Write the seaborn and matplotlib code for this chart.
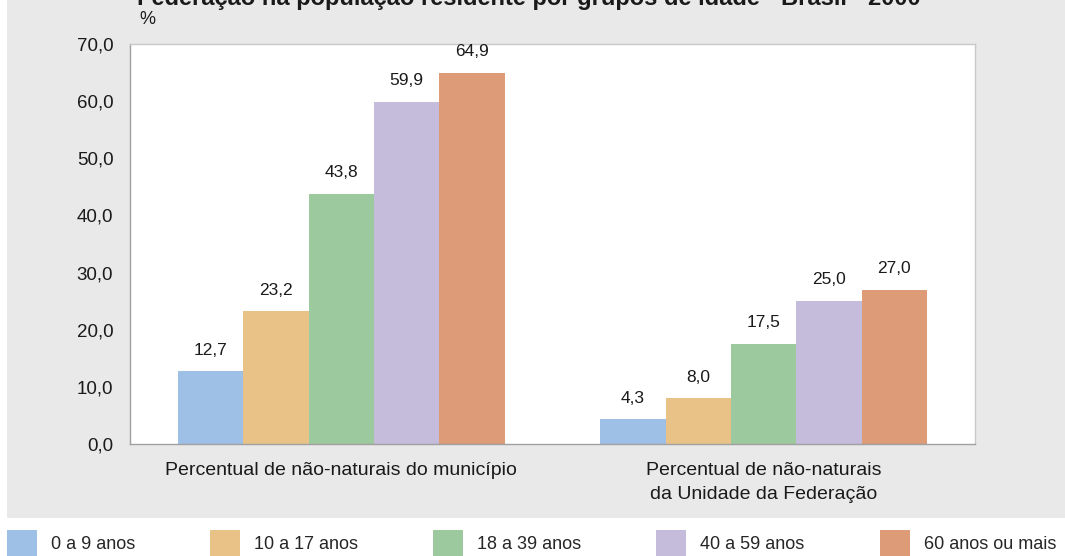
import seaborn as sns
import pandas as pd
import numpy as np
import matplotlib.pyplot as plt
import matplotlib
from matplotlib.patches import Rectangle, Patch

categorias = ['Percentual de não-naturais do município',
              'Percentual de não-naturais\nda Unidade da Federação']
idades = ['0 a 9 anos', '10 a 17 anos', '18 a 39 anos', '40 a 59 anos', '60 anos ou mais']
municipio = [12.7, 23.2, 43.8, 59.9, 64.9]
uf = [4.3, 8.0, 17.5, 25.0, 27.0]
cores = ['#9fc0e6', '#e9c287', '#9dc99f', '#c5bbdb', '#dd9b77']
yticks = [0, 10, 20, 30, 40, 50, 60, 70]

df = pd.DataFrame({
    'categoria': [categorias[0]] * 5 + [categorias[1]] * 5,
    'idade': idades * 2,
    'valor': municipio + uf,
})

sns.set_style('white')
plt.rcParams['font.family'] = ['Liberation Sans', 'DejaVu Sans']
plt.rcParams['font.size'] = 12

fig = plt.figure(figsize=(10.65, 5.56), dpi=100, facecolor='white')
# fundo cinza do painel
fig.patches.append(Rectangle((7 / 1065, 38 / 556), 1, 1, transform=fig.transFigure,
                             facecolor='#e9e9e9', edgecolor='none', zorder=-10))

ax = fig.add_axes([130 / 1065, 112 / 556, 845 / 1065, 400 / 556])
sns.barplot(data=df, x='categoria', y='valor', hue='idade', palette=cores,
            width=0.773, saturation=1, legend=False, ax=ax, linewidth=0)

for cont in ax.containers:
    for bar in cont:
        h = bar.get_height()
        ax.annotate(f'{h:.1f}'.replace('.', ','), (bar.get_x() + bar.get_width() / 2, h),
                    xytext=(0, 12), textcoords='offset points', ha='center', va='baseline',
                    fontsize=12.5, color='#1a1a1a')

ax.set_facecolor('white')
ax.set_ylim(0, 70)
ax.set_xlim(-0.5, 1.5)
ax.set_yticks(yticks)
ax.set_yticklabels([f'{v:.1f}'.replace('.', ',') for v in yticks], fontsize=13.5, color='#1a1a1a')
ax.set_xlabel('')
ax.set_ylabel('')
ax.set_xticks([0, 1])
ax.set_xticklabels(categorias, fontsize=14, linespacing=1.5, color='#1a1a1a')
ax.set_xticks([-0.5, 0.5, 1.5], minor=True)
ax.tick_params(axis='x', which='major', length=0, pad=13)
ax.tick_params(axis='x', which='minor', length=5, color='#b0b0b0', width=1, direction='out')
ax.tick_params(axis='y', length=4, color='#b0b0b0', width=1, direction='out', pad=8)
for s in ax.spines.values():
    s.set_color('#c8c8c8')
    s.set_linewidth(1)
ax.spines['left'].set_color('#a0a0a0')
ax.spines['bottom'].set_color('#a0a0a0')

fig.text(139 / 1065, 1 - 20 / 556, '%', fontsize=13, va='center', ha='left', color='#1a1a1a')
fig.text(137 / 1065, 1 - 5 / 556,
         'Federação na população residente por grupos de idade - Brasil - 2000',
         fontsize=17, fontweight='bold', va='baseline', ha='left', color='#1a1a1a')

handles = [Patch(facecolor=c, edgecolor='none') for c in cores]
fig.legend(handles, idades, loc='upper left', bbox_to_anchor=(7 / 1065, 1 - 530 / 556),
           ncol=5, frameon=False, fontsize=13, borderpad=0, borderaxespad=0,
           handlelength=1.66, handleheight=1.9, handletextpad=0.78, columnspacing=4.15)

fig.savefig('out.png', dpi=100, facecolor='white')
